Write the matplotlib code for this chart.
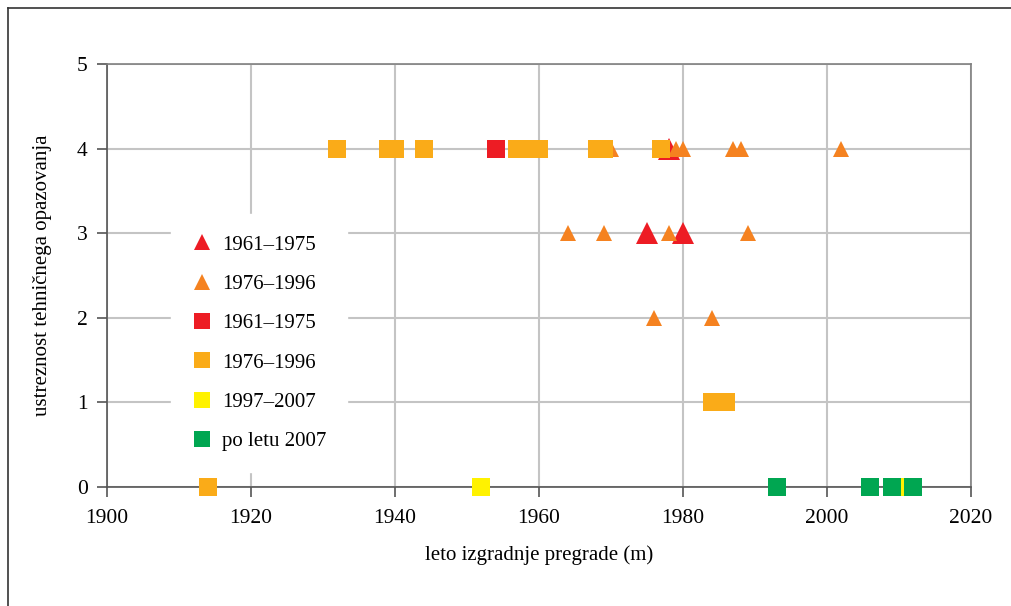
import matplotlib
matplotlib.use('Agg')
import matplotlib.pyplot as plt
from matplotlib.lines import Line2D

plt.rcParams['font.family'] = ['Liberation Serif', 'DejaVu Serif']

# trikotniki
tri_red_x = [1978, 1975, 1980]
tri_red_y = [4, 3, 3]
tri_orange_x = [1970, 1979, 1980, 1987, 1988, 2002, 1964, 1969, 1978, 1989, 1976, 1984]
tri_orange_y = [4, 4, 4, 4, 4, 4, 3, 3, 3, 3, 2, 2]

# kvadrati
sq_red_x = [1954]
sq_red_y = [4]
sq_orange_x = [1932, 1939, 1940, 1944, 1957, 1959, 1960, 1968, 1969, 1977, 1984, 1986, 1914]
sq_orange_y = [4, 4, 4, 4, 4, 4, 4, 4, 4, 4, 1, 1, 0]
sq_yellow_x = [1952, 2010]
sq_yellow_y = [0, 0]
sq_green_x = [1993, 2006, 2009, 2012]
sq_green_y = [0, 0, 0, 0]

labels = ['1961–1975', '1976–1996', '1961–1975', '1976–1996', '1997–2007', 'po letu 2007']
red = '#ED1C24'
orange_tri = '#F58220'
orange_sq = '#FAAB18'
yellow = '#FFF200'
green = '#00A651'

fig = plt.figure(figsize=(10.11, 6.06), dpi=100)
ax = fig.add_axes([0.1058, 0.1964, 0.8546, 0.698])

ax.plot(tri_red_x, tri_red_y, '^', ms=16, color=red, mew=0, ls='none', zorder=3, clip_on=False)
ax.plot(tri_orange_x, tri_orange_y, '^', ms=12, color=orange_tri, mew=0, ls='none', zorder=3, clip_on=False)
ax.plot(sq_red_x, sq_red_y, 's', ms=13, color=red, mew=0, ls='none', zorder=4, clip_on=False)
ax.plot(sq_orange_x, sq_orange_y, 's', ms=13, color=orange_sq, mew=0, ls='none', zorder=4, clip_on=False)
ax.plot(sq_yellow_x, sq_yellow_y, 's', ms=13, color=yellow, mew=0, ls='none', zorder=4, clip_on=False)
ax.plot(sq_green_x, sq_green_y, 's', ms=13, color=green, mew=0, ls='none', zorder=5, clip_on=False)

ax.set_xlim(1900, 2020)
ax.set_ylim(0, 5)
ax.set_xticks(range(1900, 2021, 20))
ax.set_yticks(range(0, 6))
ax.grid(True, color='#c4c4c4', lw=1.5)
ax.set_axisbelow(True)
for s in ax.spines.values():
    s.set_color('#808080')
    s.set_linewidth(1.2)
ax.spines['left'].set_color('#555555')
ax.spines['bottom'].set_color('#555555')
ax.tick_params(direction='out', length=7, width=1.2, color='#555555', labelsize=15.5)
ax.tick_params(axis='x', pad=9)
ax.tick_params(axis='y', pad=7)

ax.set_xlabel('leto izgradnje pregrade (m)', fontsize=15, labelpad=12)
ax.set_ylabel('ustreznost tehničnega opazovanja', fontsize=15, labelpad=18)

leg_handles = [
    Line2D([], [], marker='^', ms=12, color=red, mew=0, ls='none'),
    Line2D([], [], marker='^', ms=12, color=orange_tri, mew=0, ls='none'),
    Line2D([], [], marker='s', ms=12, color=red, mew=0, ls='none'),
    Line2D([], [], marker='s', ms=12, color=orange_sq, mew=0, ls='none'),
    Line2D([], [], marker='s', ms=12, color=yellow, mew=0, ls='none'),
    Line2D([], [], marker='s', ms=12, color=green, mew=0, ls='none'),
]
leg = ax.legend(leg_handles, labels, loc='upper left', bbox_to_anchor=(0.074, 0.645),
                fontsize=15, frameon=True, fancybox=False, framealpha=1, edgecolor='white',
                borderpad=1.0, labelspacing=0.95, handlelength=1.0, handletextpad=0.45,
                borderaxespad=0)

# okvir slike
fig.add_artist(Line2D([0.0079, 0.0079], [0, 0.987], color='#333333', lw=1.2, transform=fig.transFigure))
fig.add_artist(Line2D([0.0079, 1.0], [0.987, 0.987], color='#333333', lw=1.2, transform=fig.transFigure))

fig.savefig('out.png', dpi=100)
